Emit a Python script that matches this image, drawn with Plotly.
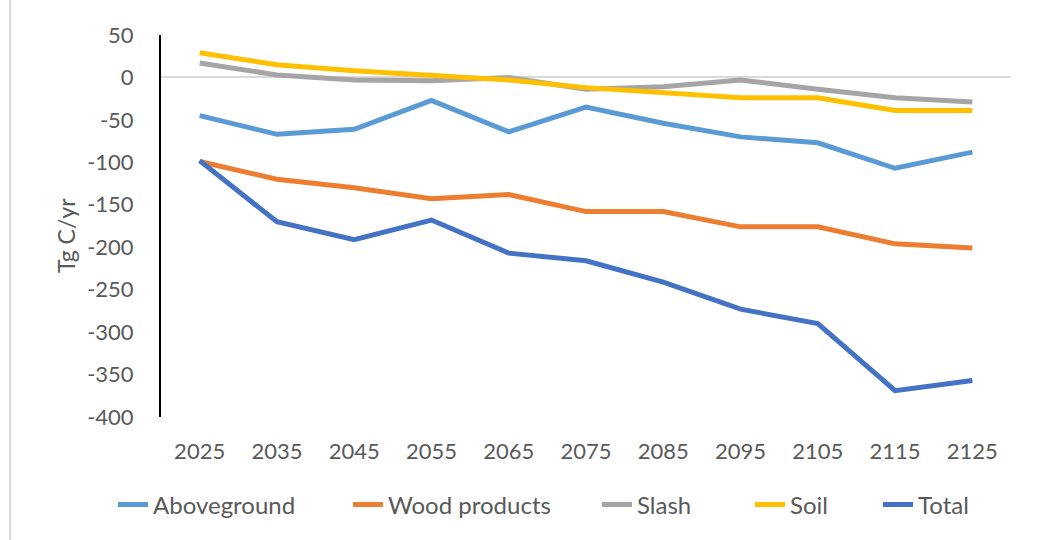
import plotly.graph_objects as go

# Carbon flux components by decade (Tg C/yr)
years = ["2025", "2035", "2045", "2055", "2065", "2075", "2085", "2095", "2105", "2115", "2125"]
aboveground = [-45, -67, -61, -27, -64, -35, -54, -70, -77, -107, -88]
wood_products = [-99, -120, -130, -143, -138, -158, -158, -176, -176, -196, -201]
slash = [17, 3, -3, -4, 0, -14, -11, -3, -14, -24, -29]
soil = [29, 15, 8, 3, -3, -12, -18, -24, -24, -39, -39]
total = [-98, -170, -191, -168, -207, -216, -241, -273, -290, -369, -357]

series_names = ["Aboveground", "Wood products", "Slash", "Soil", "Total"]
series_values = [aboveground, wood_products, slash, soil, total]
series_colors = ["#5B9BD5", "#ED7D31", "#A5A5A5", "#FFC000", "#4472C4"]

y_ticks = [50, 0, -50, -100, -150, -200, -250, -300, -350, -400]
y_tick_text = [str(v) for v in y_ticks]

font_family = "Lato, 'Noto Sans', sans-serif"
text_color = "#595959"

W, H = 1038, 540
L, R, T, B = 161, 27, 35, 123
pw, ph = W - L - R, H - T - B


def px_x(px):
    return (px - L) / pw


def px_y(py):
    return (H - B - py) / ph


# left pixel where each legend entry's label begins
legend_text_left = [153, 388, 637, 790, 918]

fig = go.Figure()
legend_layouts = {}
for i, (name, values, color) in enumerate(zip(series_names, series_values, series_colors)):
    key = "legend" if i == 0 else f"legend{i + 1}"
    fig.add_trace(go.Scatter(
        x=years, y=values, name=name, mode="lines",
        line=dict(color=color, width=5),
        legend=key,
    ))
    legend_layouts[key] = dict(
        orientation="h", x=px_x(legend_text_left[i] - 40), xanchor="left",
        y=px_y(505), yanchor="middle",
        font=dict(size=24, color=text_color, family=font_family),
        bgcolor="rgba(0,0,0,0)", borderwidth=0,
    )

fig.update_layout(
    width=W, height=H,
    margin=dict(l=L, r=R, t=T, b=B),
    paper_bgcolor="white", plot_bgcolor="white",
    font=dict(family=font_family, color=text_color, size=22),
    showlegend=True,
    xaxis=dict(
        type="category", range=[-0.5, len(years) - 0.5],
        showgrid=False, showline=False, zeroline=False,
        ticks="", ticklabelstandoff=19,
        tickfont=dict(size=22, color=text_color),
    ),
    yaxis=dict(
        range=[-400, 50], tickvals=y_ticks, ticktext=y_tick_text,
        showgrid=False, showline=True, linecolor="#000000", linewidth=2,
        zeroline=True, zerolinecolor="#d9d9d9", zerolinewidth=2,
        ticks="", ticklabelstandoff=21,
        tickfont=dict(size=22, color=text_color),
    ),
    shapes=[dict(
        type="line", xref="paper", yref="paper",
        x0=px_x(10), x1=px_x(10), y0=px_y(0), y1=px_y(H),
        line=dict(color="#d9d9d9", width=2),
    )],
    annotations=[dict(
        text="Tg C/yr", xref="paper", yref="paper",
        x=px_x(66), y=px_y(236), xanchor="center", yanchor="middle",
        textangle=-90, showarrow=False,
        font=dict(size=23, color=text_color),
    )],
    **legend_layouts,
)

fig.write_html("out.html")
